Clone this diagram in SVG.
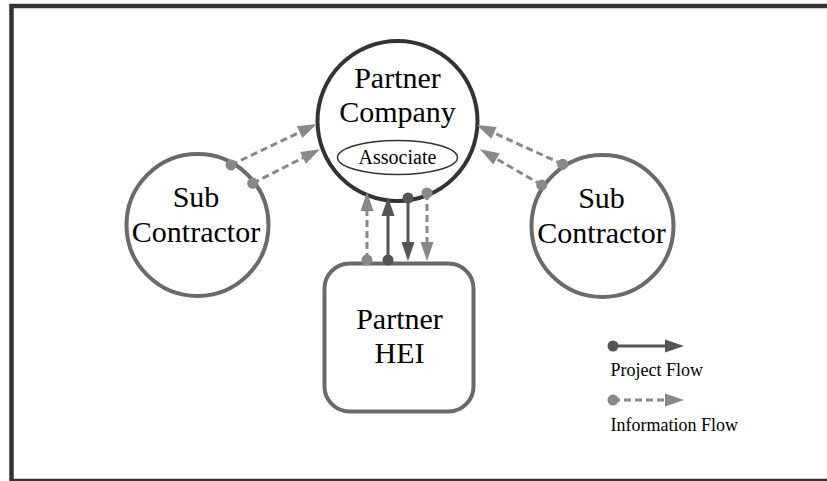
<svg xmlns="http://www.w3.org/2000/svg" width="827" height="481" viewBox="0 0 827 481">
<style>
  .t { font-family: "Liberation Serif", "Times New Roman", serif; fill: #000; text-anchor: middle; }
  .big { font-size: 30px; }
  .leg { font-family: "Liberation Serif", "Times New Roman", serif; font-size: 18px; fill: #000; }
  .proj { stroke: #555; stroke-width: 3; fill: none; marker-start: url(#dotP); marker-end: url(#arrP); }
  .info { stroke: #888; stroke-width: 3; fill: none; stroke-dasharray: 7 4; marker-start: url(#dotI); marker-end: url(#arrI); }
  .sub { fill: #fff; stroke: #6a6a6a; stroke-width: 4; }
</style>
<defs>
  <marker id="arrP" markerUnits="userSpaceOnUse" markerWidth="20" markerHeight="14" refX="1" refY="6.5" orient="auto" overflow="visible">
    <path d="M0,0 L19,6.5 L0,13 z" fill="#555"/>
  </marker>
  <marker id="arrI" markerUnits="userSpaceOnUse" markerWidth="20" markerHeight="14" refX="1" refY="6.5" orient="auto" overflow="visible">
    <path d="M0,0 L19,6.5 L0,13 z" fill="#888"/>
  </marker>
  <marker id="dotP" markerUnits="userSpaceOnUse" markerWidth="12" markerHeight="12" refX="6" refY="6" orient="auto" overflow="visible">
    <circle cx="6" cy="6" r="5.5" fill="#555"/>
  </marker>
  <marker id="dotI" markerUnits="userSpaceOnUse" markerWidth="12" markerHeight="12" refX="6" refY="6" orient="auto" overflow="visible">
    <circle cx="6" cy="6" r="5.5" fill="#888"/>
  </marker>
</defs>
<rect x="0" y="0" width="827" height="481" fill="#fff"/>
<rect id="frame" x="11.5" y="6" width="830" height="475" fill="none" stroke="#333" stroke-width="4.5"/>

<g id="partner-company">
  <circle cx="397.5" cy="121" r="80" fill="#fff" stroke="#333" stroke-width="4"/>
  <text class="t big" x="397.5" y="88">Partner</text>
  <text class="t big" x="397.5" y="122">Company</text>
  <g id="associate">
    <ellipse cx="397.5" cy="157.5" rx="60" ry="17" fill="#fff" stroke="#333" stroke-width="1.5"/>
    <text class="t" x="397.5" y="164" font-size="20">Associate</text>
  </g>
</g>

<g id="sub-contractor-left">
  <circle class="sub" cx="197.5" cy="225" r="71"/>
  <text class="t big" x="196" y="207">Sub</text>
  <text class="t big" x="196" y="242">Contractor</text>
</g>

<g id="sub-contractor-right">
  <circle class="sub" cx="602.5" cy="226" r="71"/>
  <text class="t big" x="601.5" y="208">Sub</text>
  <text class="t big" x="601.5" y="242.5">Contractor</text>
</g>

<g id="partner-hei">
  <rect x="324.5" y="263.5" width="149" height="148" rx="25" ry="25" fill="#fff" stroke="#6a6a6a" stroke-width="4"/>
  <text class="t big" x="399.5" y="329">Partner</text>
  <text class="t big" x="399.5" y="363">HEI</text>
</g>

<g id="connectors">
  <line class="info" x1="231" y1="165" x2="300.5" y2="131.8"/>
  <line class="info" x1="252.7" y1="183.3" x2="303.9" y2="157.4"/>
  <line class="info" x1="562.7" y1="164.3" x2="493.1" y2="132.5"/>
  <line class="info" x1="541.7" y1="185" x2="495.6" y2="158.3"/>
  <line class="info" x1="367" y1="260" x2="367" y2="210"/>
  <line class="proj" x1="388" y1="260" x2="388" y2="215"/>
  <line class="proj" x1="408" y1="198" x2="408" y2="243"/>
  <line class="info" x1="427" y1="193" x2="427" y2="243"/>
</g>

<g id="legend">
  <line class="proj" x1="613" y1="346" x2="666" y2="346"/>
  <text class="leg" x="610.5" y="376">Project Flow</text>
  <line class="info" x1="613" y1="400" x2="666" y2="400"/>
  <text class="leg" x="610.5" y="431">Information Flow</text>
</g>
</svg>
